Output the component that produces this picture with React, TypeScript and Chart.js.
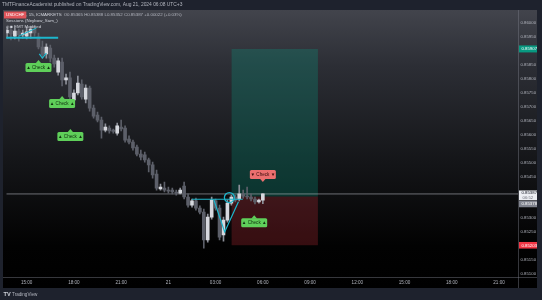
import React, { useEffect, useRef } from "react";
import { Chart, registerables } from "chart.js";

Chart.register(...registerables);

// ---------- texts ----------
const headerText = "TMTFinanceAcademist published on TradingView.com, Aug 21, 2024 06:08 UTC+3";
const symbolText = "USDCHF";
const symbolRest = ", 15, ICMARKETS";
const ohlcText = "O0.85365 H0.85388 L0.85352 C0.85387 +0.00022 (+0.03%)";
const indicatorOne = "Sessions (Neybow_Sam_)";
const indicatorTwo = "◎ ■ EMT Modified";
const checkUpText = "▲ Check ▲";
const checkDownText = "▼ Check ▼";
const countdownText = "06:52";

// ---------- candles (15-minute slots, slot 0 = 15:00) ----------
const slots = [-5, -4, -3, -2, -1, 0, 1, 2, 3, 4, 5, 6, 7, 8, 9, 10, 11, 12, 13, 14, 15, 16, 17, 18, 19, 20, 21, 22, 23, 24, 25, 26, 27, 28, 29, 30, 31, 32, 33, 34, 35, 36, 37, 38, 39, 40, 41, 42, 43, 44, 45, 46, 47, 48, 49, 50, 51, 52, 53, 54, 55, 56, 57, 58, 59, 60];
const opens = [0.85964, 0.85975, 0.85953, 0.85971, 0.85957, 0.85953, 0.85964, 0.85978, 0.8595, 0.85914, 0.85889, 0.8591, 0.85874, 0.85824, 0.8586, 0.85796, 0.85803, 0.85724, 0.85749, 0.85781, 0.85727, 0.85767, 0.85695, 0.8567, 0.85652, 0.85616, 0.85623, 0.85616, 0.85605, 0.85627, 0.85623, 0.85584, 0.85573, 0.85555, 0.8553, 0.85527, 0.85509, 0.85491, 0.85458, 0.85405, 0.85408, 0.85401, 0.85401, 0.85394, 0.8539, 0.85415, 0.85376, 0.85347, 0.85362, 0.85336, 0.85322, 0.85222, 0.85304, 0.85362, 0.85336, 0.8524, 0.85293, 0.85354, 0.85376, 0.85369, 0.85387, 0.85379, 0.85376, 0.85369, 0.85358, 0.85365];
const highs = [0.85986, 0.85989, 0.85982, 0.85978, 0.85975, 0.85986, 0.85989, 0.85989, 0.85964, 0.85935, 0.85925, 0.85921, 0.85885, 0.85874, 0.85874, 0.85817, 0.85824, 0.8576, 0.8581, 0.85796, 0.85778, 0.85774, 0.85706, 0.85681, 0.85663, 0.85638, 0.85631, 0.8562, 0.85641, 0.85652, 0.85631, 0.85595, 0.8558, 0.85562, 0.85544, 0.85537, 0.85516, 0.85501, 0.85473, 0.85422, 0.8543, 0.85412, 0.85408, 0.85401, 0.85408, 0.8543, 0.85387, 0.85369, 0.85372, 0.85344, 0.85333, 0.85315, 0.85376, 0.85369, 0.85347, 0.85304, 0.85365, 0.85383, 0.85383, 0.85419, 0.85401, 0.85412, 0.85387, 0.85376, 0.85369, 0.85388];
const lows = [0.85946, 0.85939, 0.85943, 0.85935, 0.85946, 0.85943, 0.85946, 0.85953, 0.85907, 0.85874, 0.85874, 0.8586, 0.85842, 0.85813, 0.85774, 0.85781, 0.8572, 0.85713, 0.85742, 0.85727, 0.85713, 0.85684, 0.85659, 0.85645, 0.85587, 0.85609, 0.85605, 0.85605, 0.85598, 0.85613, 0.85573, 0.85566, 0.85544, 0.85523, 0.85509, 0.85501, 0.85466, 0.85444, 0.85401, 0.85401, 0.85394, 0.8539, 0.85387, 0.85383, 0.85387, 0.85369, 0.8534, 0.8534, 0.85329, 0.85315, 0.85193, 0.85214, 0.85297, 0.85329, 0.85222, 0.85218, 0.85286, 0.85347, 0.85358, 0.85362, 0.85372, 0.85369, 0.85362, 0.85351, 0.85354, 0.85352];
const closes = [0.85975, 0.85961, 0.85971, 0.85957, 0.85964, 0.85968, 0.85978, 0.85964, 0.85914, 0.85885, 0.85914, 0.85874, 0.85853, 0.85864, 0.85796, 0.85803, 0.85735, 0.85749, 0.85785, 0.85735, 0.85767, 0.85695, 0.85666, 0.85652, 0.85616, 0.85627, 0.85613, 0.85611, 0.85631, 0.8562, 0.8558, 0.85573, 0.85552, 0.8553, 0.85519, 0.85509, 0.85491, 0.85455, 0.85408, 0.85412, 0.85401, 0.85397, 0.85394, 0.8539, 0.85401, 0.85376, 0.85347, 0.85362, 0.85336, 0.85322, 0.85222, 0.85304, 0.85365, 0.85336, 0.85232, 0.85293, 0.85354, 0.85376, 0.85365, 0.85387, 0.85379, 0.85376, 0.85369, 0.85358, 0.85365, 0.85387];

// ---------- axes ----------
const timeTickSlots = [0, 12, 24, 36, 48, 60, 72, 84, 96, 108, 120];
const timeTickLabels = ["15:00", "18:00", "21:00", "21", "03:00", "06:00", "09:00", "12:00", "15:00", "18:00", "21:00"];
const slotMin = -5.175;
const slotMax = 124.82;
const priceMin = 0.850892;
const priceMax = 0.860466;
const priceStep = 0.0005;

// ---------- position tool ----------
const positionSlots = [52, 74];
const targetPrice = 0.85907;
const entryPrice = 0.85378;
const stopPrice = 0.85203;
const lastPrice = 0.85387;

// ---------- labels ----------
const checkUpSlots = [3, 9, 11.1, 57.8];
const checkUpPrices = [0.85867, 0.85738, 0.8562, 0.85311];
const checkDownSlots = [60];
const checkDownPrices = [0.8543];

// ---------- drawings ----------
const cyanTopSlots = [-5.3, 8.0];
const cyanTopPrices = [0.85947, 0.85947];
const cyanRiseSlots = [-2, 2.5];
const cyanRisePrices = [0.85953, 0.85982];
const cyanVSlots = [3.2, 4, 5];
const cyanVPrices = [0.85889, 0.85874, 0.85892];
const cyanFlatSlots = [42, 54.9];
const cyanFlatPrices = [0.85368, 0.85368];
const cyanTriSlots = [47.5, 50.3, 53.8];
const cyanTriPrices = [0.85368, 0.85251, 0.85359];
const cyanRingSlots = [51.5];
const cyanRingPrices = [0.85374];

const FONT = '"Liberation Sans", Arial, sans-serif';
const CYAN = "#1cb6cc";

const pts = (xs: number[], ys: number[]) => xs.map((x, i) => ({ x, y: ys[i] }));

function roundRect(ctx: CanvasRenderingContext2D, x: number, y: number, w: number, h: number, r: number) {
  ctx.beginPath();
  ctx.moveTo(x + r, y);
  ctx.lineTo(x + w - r, y);
  ctx.quadraticCurveTo(x + w, y, x + w, y + r);
  ctx.lineTo(x + w, y + h - r);
  ctx.quadraticCurveTo(x + w, y + h, x + w - r, y + h);
  ctx.lineTo(x + r, y + h);
  ctx.quadraticCurveTo(x, y + h, x, y + h - r);
  ctx.lineTo(x, y + r);
  ctx.quadraticCurveTo(x, y, x + r, y);
  ctx.closePath();
}

function drawCheck(ctx: CanvasRenderingContext2D, x: number, tip: number, up: boolean) {
  const w = 26, h = 9, a = 3;
  ctx.fillStyle = up ? "#5fcf5a" : "#ec6f6f";
  ctx.beginPath();
  if (up) {
    ctx.moveTo(x, tip);
    ctx.lineTo(x - 3, tip + a + 0.5);
    ctx.lineTo(x + 3, tip + a + 0.5);
  } else {
    ctx.moveTo(x, tip);
    ctx.lineTo(x - 3, tip - a - 0.5);
    ctx.lineTo(x + 3, tip - a - 0.5);
  }
  ctx.closePath();
  ctx.fill();
  const top = up ? tip + a : tip - a - h;
  roundRect(ctx, x - w / 2, top, w, h, 1.5);
  ctx.fill();
  ctx.fillStyle = up ? "#10300f" : "#3a0c0c";
  ctx.font = `4.6px ${FONT}`;
  ctx.textAlign = "center";
  ctx.textBaseline = "middle";
  ctx.fillText(up ? checkUpText : checkDownText, x, top + h / 2 + 0.3);
}

const backgroundPlugin = {
  id: "tvBackground",
  beforeDraw(chart: any) {
    const ctx = chart.ctx as CanvasRenderingContext2D;
    ctx.save();
    ctx.fillStyle = "#1e222d";
    ctx.fillRect(0, 0, chart.width, chart.height);
    const g = ctx.createLinearGradient(0, 10, 0, 288);
    g.addColorStop(0, "#42444c");
    g.addColorStop(0.2, "#2c2e35");
    g.addColorStop(0.55, "#141518");
    g.addColorStop(0.85, "#020202");
    g.addColorStop(1, "#000000");
    ctx.fillStyle = g;
    ctx.fillRect(3, 10, 534, 278);
    ctx.restore();
  },
};

const overlayPlugin = {
  id: "tvOverlay",
  afterDraw(chart: any) {
    const ctx = chart.ctx as CanvasRenderingContext2D;
    const xs = chart.scales.x;
    const ys = chart.scales.y;
    const area = chart.chartArea;
    ctx.save();

    // separators
    ctx.strokeStyle = "rgba(120,123,134,0.45)";
    ctx.lineWidth = 1;
    ctx.beginPath();
    ctx.moveTo(Math.round(area.right) + 0.5, 10);
    ctx.lineTo(Math.round(area.right) + 0.5, 288);
    ctx.moveTo(3, Math.round(area.bottom) + 0.5);
    ctx.lineTo(537, Math.round(area.bottom) + 0.5);
    ctx.stroke();

    // header
    ctx.textAlign = "left";
    ctx.textBaseline = "middle";
    ctx.fillStyle = "#b2b5be";
    ctx.font = `4.9px ${FONT}`;
    ctx.fillText(headerText, 2, 4.6);

    // legend
    ctx.font = `4.4px ${FONT}`;
    const symW = ctx.measureText(symbolText).width;
    ctx.fillStyle = "#e0555b";
    ctx.fillRect(4, 11.5, symW + 4, 7);
    ctx.fillStyle = "#ffffff";
    ctx.fillText(symbolText, 6, 15.2);
    ctx.fillStyle = "#d1d4dc";
    const restX = 8 + symW;
    ctx.fillText(symbolRest, restX, 15.2);
    const ohlcX = Math.max(54, restX + ctx.measureText(symbolRest).width + 2);
    ctx.fillStyle = "#b2b5be";
    ctx.fillText(ohlcText, ohlcX, 15.2);
    ctx.fillStyle = "#d1d4dc";
    ctx.fillText(indicatorOne, 6, 21.2);
    ctx.fillText(indicatorTwo, 6, 27.2);

    // check labels
    checkUpSlots.forEach((s, i) => drawCheck(ctx, xs.getPixelForValue(s), ys.getPixelForValue(checkUpPrices[i]), true));
    checkDownSlots.forEach((s, i) => drawCheck(ctx, xs.getPixelForValue(s), ys.getPixelForValue(checkDownPrices[i]), false));

    // price axis labels
    const lx = Math.round(area.right) + 1;
    const lw = 537 - lx;
    ctx.font = `4.3px ${FONT}`;
    ctx.textAlign = "left";
    const yt = ys.getPixelForValue(targetPrice);
    ctx.fillStyle = "#089981";
    ctx.fillRect(lx, yt - 3.5, lw, 7);
    ctx.fillStyle = "#ffffff";
    ctx.fillText(targetPrice.toFixed(5), lx + 2.5, yt + 0.2);

    const yl = ys.getPixelForValue(lastPrice);
    const wTop = yl - 3.5;
    ctx.fillStyle = "#eceef2";
    ctx.fillRect(lx, wTop, lw, 9.8);
    ctx.fillStyle = "#131722";
    ctx.fillText(lastPrice.toFixed(5), lx + 2.5, wTop + 2.8);
    ctx.fillStyle = "#6a6d78";
    ctx.fillText(countdownText, lx + 3.5, wTop + 7.4);

    const gTop = wTop + 10.3;
    ctx.fillStyle = "#80838e";
    ctx.fillRect(lx, gTop, lw, 6.5);
    ctx.fillStyle = "#ffffff";
    ctx.fillText(entryPrice.toFixed(5), lx + 2.5, gTop + 3.4);

    const yr = ys.getPixelForValue(stopPrice);
    ctx.fillStyle = "#f23645";
    ctx.fillRect(lx, yr - 3.3, lw, 6.6);
    ctx.fillStyle = "#ffffff";
    ctx.fillText(stopPrice.toFixed(5), lx + 2.5, yr + 0.2);

    // bottom brand
    ctx.fillStyle = "#d1d4dc";
    ctx.font = `bold 5.6px ${FONT}`;
    ctx.fillText("TV", 3.5, 294.3);
    ctx.font = `4.6px ${FONT}`;
    ctx.fillStyle = "#b2b5be";
    ctx.fillText("TradingView", 12, 294.3);

    ctx.restore();
  },
};

export default function App() {
  const ref = useRef<HTMLCanvasElement | null>(null);

  useEffect(() => {
    document.body.style.margin = "0";
    const canvas = ref.current;
    if (!canvas) return;

    const isUp = closes.map((c, i) => c >= opens[i]);
    const hiddenTickPrices = [targetPrice, lastPrice, entryPrice, stopPrice];

    const cyanLine = (label: string, xsArr: number[], ysArr: number[], width: number) => ({
      type: "line",
      label,
      data: pts(xsArr, ysArr),
      borderColor: CYAN,
      borderWidth: width,
      pointRadius: 0,
      fill: false,
      tension: 0,
      order: 0,
    });

    const datasets: any[] = [
      cyanLine("cyanTop", cyanTopSlots, cyanTopPrices, 2),
      cyanLine("cyanRise", cyanRiseSlots, cyanRisePrices, 1),
      cyanLine("cyanV", cyanVSlots, cyanVPrices, 1.2),
      cyanLine("cyanFlat", cyanFlatSlots, cyanFlatPrices, 1.2),
      cyanLine("cyanTri", cyanTriSlots, cyanTriPrices, 1.2),
      {
        type: "line",
        label: "ring",
        data: pts(cyanRingSlots, cyanRingPrices),
        showLine: false,
        pointRadius: 5,
        pointBorderWidth: 1.3,
        pointBorderColor: CYAN,
        pointBackgroundColor: "rgba(0,0,0,0)",
        order: 0,
      },
      {
        type: "bar",
        label: "body",
        data: slots.map((s, i) => ({ x: s, y: [opens[i], closes[i]] })),
        backgroundColor: isUp.map((u) => (u ? "#d6d8de" : "#5c5f69")),
        barThickness: 3,
        minBarLength: 1,
        grouped: false,
        order: 1,
      },
      {
        type: "bar",
        label: "wick",
        data: slots.map((s, i) => ({ x: s, y: [lows[i], highs[i]] })),
        backgroundColor: isUp.map((u) => (u ? "#8d9099" : "#5c5f69")),
        barThickness: 1,
        grouped: false,
        order: 2,
      },
      {
        type: "line",
        label: "priceLine",
        data: pts([slotMin, slotMax], [lastPrice, lastPrice]),
        borderColor: "rgba(190,192,200,0.55)",
        borderWidth: 1,
        pointRadius: 0,
        fill: false,
        order: 3,
      },
    ];
    const entryIndex = datasets.length;
    datasets.push({
      type: "line",
      label: "entry",
      data: pts(positionSlots, [entryPrice, entryPrice]),
      borderWidth: 0,
      borderColor: "rgba(0,0,0,0)",
      pointRadius: 0,
      fill: false,
      order: 5,
    });
    datasets.push({
      type: "line",
      label: "target",
      data: pts(positionSlots, [targetPrice, targetPrice]),
      borderWidth: 0,
      borderColor: "rgba(0,0,0,0)",
      backgroundColor: "rgba(8,153,129,0.28)",
      pointRadius: 0,
      fill: entryIndex,
      order: 6,
    });
    datasets.push({
      type: "line",
      label: "stop",
      data: pts(positionSlots, [stopPrice, stopPrice]),
      borderWidth: 0,
      borderColor: "rgba(0,0,0,0)",
      backgroundColor: "rgba(242,54,69,0.22)",
      pointRadius: 0,
      fill: entryIndex,
      order: 6,
    });

    const chart = new Chart(canvas, {
      type: "bar",
      data: { datasets },
      options: {
        animation: false,
        responsive: false,
        devicePixelRatio: 1,
        events: [],
        layout: { padding: { left: 3, top: 10, right: 5, bottom: 12 } },
        plugins: {
          legend: { display: false },
          tooltip: { enabled: false },
          title: { display: false },
        },
        scales: {
          x: {
            type: "linear",
            position: "bottom",
            min: slotMin,
            max: slotMax,
            offset: false,
            grid: { display: false, drawTicks: false },
            border: { display: false },
            ticks: {
              stepSize: 12,
              includeBounds: false,
              autoSkip: false,
              maxTicksLimit: 40,
              maxRotation: 0,
              minRotation: 0,
              padding: 2.5,
              color: "#b2b5be",
              font: { size: 4.6, family: FONT },
              callback: (v: any) => {
                const idx = timeTickSlots.indexOf(Math.round(Number(v)));
                return idx >= 0 ? timeTickLabels[idx] : "";
              },
            },
            afterFit: (s: any) => {
              s.height = 11;
            },
          },
          y: {
            type: "linear",
            position: "right",
            min: priceMin,
            max: priceMax,
            grid: { display: false, drawTicks: false },
            border: { display: false },
            ticks: {
              stepSize: priceStep,
              includeBounds: false,
              autoSkip: false,
              maxTicksLimit: 40,
              padding: 2.5,
              color: "#b2b5be",
              font: { size: 4.3, family: FONT },
              callback: (v: any) => {
                const n = Number(v);
                if (hiddenTickPrices.some((p) => Math.abs(p - n) < 0.0003)) return "";
                return n.toFixed(5);
              },
            },
            afterFit: (s: any) => {
              s.width = 19;
            },
          },
        },
      } as any,
      plugins: [backgroundPlugin, overlayPlugin],
    });

    return () => chart.destroy();
  }, []);

  return (
    <div style={{ position: "fixed", left: 0, top: 0, width: 542, height: 300 }}>
      <canvas ref={ref} width={542} height={300} style={{ display: "block", width: 542, height: 300 }} />
    </div>
  );
}
